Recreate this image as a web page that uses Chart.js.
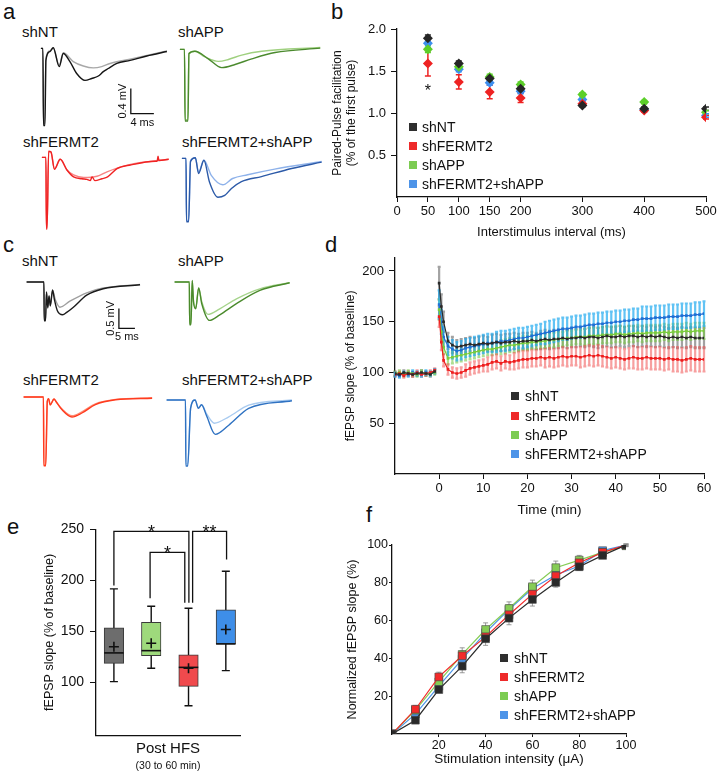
<!DOCTYPE html>
<html>
<head>
<meta charset="utf-8">
<title>FERMT2 / APP field recordings</title>
<script src="https://cdn.jsdelivr.net/npm/chart.js@4.4.1/dist/chart.umd.min.js"></script>
<style>
  html, body { margin: 0; padding: 0; background: #fff; overflow: hidden; }
  #fig { position: relative; width: 717px; height: 772px; overflow: hidden;
         font-family: "Liberation Sans", Arial, sans-serif; color: #111; }
  #fig canvas { position: absolute; }
  .txt { position: absolute; line-height: 1; white-space: nowrap; }
  .panel { font-size: 22px; }
  .name { font-size: 15px; }
  .legrow { position: absolute; height: 14px; display: flex; align-items: center;
            font-size: 14px; line-height: 14px; white-space: nowrap; }
  .legrow i { display: inline-block; width: 8px; height: 8px; box-sizing: border-box; }
</style>
</head>
<body>
<div id="fig">
  <div class="txt panel" style="left:3px;top:1px">a</div>
  <div class="txt panel" style="left:331px;top:1px">b</div>
  <div class="txt panel" style="left:3px;top:234px">c</div>
  <div class="txt panel" style="left:325px;top:234px">d</div>
  <div class="txt panel" style="left:7px;top:516px">e</div>
  <div class="txt panel" style="left:366px;top:504px">f</div>

  <div class="txt name" style="left:22px;top:24px">shNT</div>
  <div class="txt name" style="left:178px;top:24px">shAPP</div>
  <div class="txt name" style="left:23px;top:134px">shFERMT2</div>
  <div class="txt name" style="left:182px;top:134px">shFERMT2+shAPP</div>

  <div class="txt name" style="left:22px;top:253px">shNT</div>
  <div class="txt name" style="left:178px;top:253px">shAPP</div>
  <div class="txt name" style="left:23px;top:372px">shFERMT2</div>
  <div class="txt name" style="left:182px;top:372px">shFERMT2+shAPP</div>
</div>

<script>
// ---- shared ----
const groups = ['shNT', 'shFERMT2', 'shAPP', 'shFERMT2+shAPP'];

// ---- a: paired-pulse traces, [ms, mV] (dark = 2nd pulse, light = 1st pulse) ----
const aNTDark = [[0,0],[0.35,0],[0.45,-1.23],[0.7,-1.23],[0.87,-0.19],[1.57,-0.05],[2.14,0.01],[3.18,-0.29],[3.88,-0.08],[5.04,-0.21],[6.21,-0.4],[7.65,-0.51],[8.82,-0.48],[9.97,-0.44],[10.83,-0.37],[11.7,-0.32],[13.17,-0.24],[15.48,-0.19],[18.38,-0.12],[21.86,-0.05]];
const aNTLight = [[0,0],[0.35,0],[0.45,-1.2],[0.7,-1.2],[0.87,-0.17],[1.57,-0.04],[2.14,0.01],[3.18,-0.27],[3.88,-0.07],[5.62,-0.21],[7.36,-0.28],[9.1,-0.31],[10.56,-0.29],[12.0,-0.24],[15.48,-0.17],[21.86,-0.04]];
const aAPPDark = [[0,0],[0.8,0],[0.9,-1.14],[1.4,-1.14],[1.57,-0.07],[2.61,-0.03],[4.93,-0.15],[7.25,-0.29],[9.57,-0.24],[12.47,-0.15],[16.52,-0.05],[24.35,0.02]];
const aAPPLight = [[0,0],[0.8,0],[0.9,-1.12],[1.4,-1.12],[1.57,-0.06],[2.61,-0.03],[4.35,-0.12],[6.67,-0.19],[8.41,-0.16],[10.73,-0.09],[14.2,-0.03],[24.35,0.03]];
const aFDark = [[0,0],[0.7,0],[0.78,-1.14],[0.9,-1.14],[1.17,0.1],[1.57,0.09],[2.19,-0.19],[3.18,-0.03],[4.35,-0.2],[5.5,-0.31],[6.96,-0.34],[7.8,-0.35],[8.4,-0.37],[8.7,-0.31],[9.2,-0.37],[10.43,-0.34],[11.4,-0.31],[13.04,-0.18],[15.35,-0.12],[19.7,-0.06],[20.0,-0.06],[20.15,0.02],[20.3,-0.05],[22.0,-0.03]];
const aFLight = [[0,0],[0.7,0],[0.78,-1.12],[0.9,-1.12],[1.17,0.09],[1.57,0.08],[2.19,-0.18],[3.18,-0.03],[4.35,-0.2],[5.5,-0.28],[7.24,-0.32],[9.57,-0.3],[11.3,-0.23],[13.04,-0.17],[15.35,-0.11],[22.0,-0.03]];
const aBothDark = [[0,0],[0.72,0],[0.8,-1.01],[1.17,-1.01],[1.5,-0.05],[2.33,0.01],[2.9,-0.24],[3.82,-0.03],[4.8,-0.38],[6.26,-0.62],[7.43,-0.59],[8.6,-0.48],[10.33,-0.37],[13.81,-0.29],[19.03,-0.16],[24.25,-0.06]];
const aBothLight = [[0,0],[0.72,0],[0.8,-0.99],[1.17,-0.99],[1.5,-0.04],[2.33,0.01],[2.9,-0.22],[3.82,-0.03],[5.1,-0.27],[7.1,-0.42],[8.8,-0.32],[11.4,-0.26],[16.1,-0.17],[24.25,-0.05]];

// ---- c: LTP traces, [ms, mV] (dark = after HFS, light = baseline) ----
const cNTDark = [[0,0],[5.4,0],[5.5,-0.97],[5.9,-0.97],[6.2,-0.25],[6.6,-0.65],[7.0,-0.35],[7.4,-0.6],[8.1,-0.2],[8.7,-0.45],[9.6,-0.72],[11.25,-0.82],[12.5,-0.76],[14.6,-0.63],[18.75,-0.33],[23.9,-0.17],[35.4,-0.07]];
const cNTLight = [[0,0],[5.4,0],[5.5,-0.95],[5.9,-0.95],[6.2,-0.25],[6.6,-0.62],[7.0,-0.35],[7.4,-0.58],[8.1,-0.21],[9.0,-0.45],[10.4,-0.63],[13.5,-0.48],[18.75,-0.27],[23.9,-0.15],[35.4,-0.06]];
const cAPPDark = [[0,0],[4.6,0],[4.7,-1.07],[5.1,-1.07],[5.5,0.04],[5.9,-0.5],[6.6,-0.67],[7.5,-0.15],[8.5,-0.55],[10.9,-0.96],[14.1,-0.82],[19.3,-0.54],[26.6,-0.21],[35.9,-0.02]];
const cAPPLight = [[0,0],[4.6,0],[4.7,-1.04],[5.1,-1.04],[5.5,0.03],[5.9,-0.48],[6.6,-0.64],[7.5,-0.15],[8.5,-0.5],[10.4,-0.81],[14.1,-0.67],[19.3,-0.42],[26.6,-0.17],[35.9,-0.02]];
const cFDark = [[0,0],[6.2,0],[6.3,-1.72],[6.9,-1.72],[7.4,-0.1],[7.8,-0.04],[8.3,-0.2],[9.5,-0.05],[10.0,-0.1],[12.0,-0.32],[15.1,-0.5],[18.2,-0.4],[22.4,-0.19],[28.7,-0.07],[40.1,-0.03]];
const cFLight = [[0,0],[6.2,0],[6.3,-1.7],[6.9,-1.7],[7.4,-0.1],[7.8,-0.04],[8.3,-0.19],[9.5,-0.05],[10.0,-0.1],[12.0,-0.3],[15.1,-0.47],[18.2,-0.37],[22.4,-0.17],[28.7,-0.06],[40.1,-0.02]];
const cBothDark = [[0,0],[5.9,0],[6.0,-1.65],[6.6,-1.65],[7.5,-0.2],[8.9,0],[9.9,-0.21],[10.9,-0.12],[12.5,-0.4],[15.2,-0.86],[19.4,-0.63],[25.6,-0.21],[39.1,-0.02]];
const cBothLight = [[0,0],[5.9,0],[6.0,-1.6],[6.6,-1.6],[7.5,-0.2],[8.9,0],[9.9,-0.2],[10.9,-0.12],[12.5,-0.35],[14.9,-0.58],[19.4,-0.42],[25.6,-0.13],[39.1,0]];

// ---- b: paired-pulse facilitation ----
const ppInterval = [50, 100, 150, 200, 300, 400, 500];
const ppNT     = [1.89, 1.59, 1.41, 1.29, 1.09, 1.05, 1.05];
const ppFERMT2 = [1.59, 1.37, 1.25, 1.18, 1.11, 1.03, 0.95];
const ppAPP    = [1.76, 1.55, 1.43, 1.34, 1.22, 1.13, 1.01];
const ppBoth   = [1.83, 1.52, 1.36, 1.26, 1.16, 1.04, 0.97];
const ppNTErr     = [0.04, 0.03, 0.03, 0.03, 0.02, 0.02, 0.02];
const ppFERMT2Err = [0.15, 0.085, 0.08, 0.055, 0.03, 0.02, 0.02];
const ppAPPErr    = [0.04, 0.04, 0.03, 0.03, 0.02, 0.02, 0.02];
const ppBothErr   = [0.05, 0.03, 0.03, 0.03, 0.02, 0.02, 0.02];
const ppXTicks = [0, 50, 100, 150, 200, 300, 400, 500];
const ppYTicks = [0.5, 1.0, 1.5, 2.0];
const ppStar = { x: 50, y: 1.30, text: '*' };

// ---- d: LTP time course (% of baseline) ----
const timePre = [-10, -9, -8, -7, -6, -5, -4, -3, -2, -1];
const timePost = [0, 0.5, 1, 2, 3, 4, 5, 6, 7, 8, 9, 10, 11, 12, 13, 14, 15, 16, 17, 18, 19, 20,
  21, 22, 23, 24, 25, 26, 27, 28, 29, 30, 31, 32, 33, 34, 35, 36, 37, 38, 39, 40,
  41, 42, 43, 44, 45, 46, 47, 48, 49, 50, 51, 52, 53, 54, 55, 56, 57, 58, 59, 60];
const ltpNTPre     = [99, 98, 100, 99, 98, 99, 100, 99, 98, 101];
const ltpFERMT2Pre = [98, 99, 97, 99, 98, 100, 98, 99, 100, 102];
const ltpAPPPre    = [99, 100, 98, 100, 99, 98, 100, 99, 99, 100];
const ltpBothPre   = [98, 97, 99, 98, 100, 99, 98, 100, 99, 101];
const ltpPreErr    = [2, 2, 2, 2, 2, 2, 2, 2, 2, 2];
const ltpNTPost = [188,165,150,131,127,125,126,127,128,127, 128,129,128,129,130,129,130,130,131,130,
  131,131,132,131,132,133,132,133,133,134, 133,134,134,135,134,135,135,134,135,136,
  135,135,136,135,136,136,135,136,135,136, 135,136,135,134,135,134,135,134,135,134, 134,134];
const ltpFERMT2Post = [155,130,112,103,100,99,100,102,104,105, 106,107,108,110,111,109,111,110,111,112,
  113,113,114,114,115,114,115,114,115,116, 115,116,116,115,116,117,116,117,116,115,
  114,115,114,113,114,115,114,114,115,114, 114,114,113,114,113,113,112,113,114,113, 113,113];
const ltpAPPPost = [162,140,125,114,115,116,117,118,119,120, 121,122,123,123,124,125,126,127,127,128,
  129,129,130,130,131,131,132,132,133,133, 134,134,135,135,135,136,136,136,137,137,
  137,138,138,137,138,138,139,138,139,139, 139,139,140,139,140,140,140,141,140,141, 141,141];
const ltpBothPost = [167,150,135,126,123,121,122,124,125,126, 127,128,129,129,130,131,131,132,133,134,
  134,135,136,137,138,139,140,141,142,143, 143,144,145,145,146,147,147,148,148,149,
  149,150,150,151,151,152,152,153,153,153, 154,154,154,155,155,155,156,156,156,157, 157,158];
const ltpNTErr = [16,12,10,8,8,7,7,7,7,7, 7,7,7,8,8,8,8,8,8,8, 8,8,8,8,9,9,9,9,9,9,
  9,9,9,9,9,9,10,10,10,10, 10,10,10,10,10,10,10,10,10,10, 10,10,10,10,10,10,10,10,10,10, 10,10];
const ltpFERMT2Err = [10,8,6,5,5,5,5,6,6,6, 6,6,7,7,7,7,7,7,8,8, 8,8,8,8,8,9,9,9,9,9,
  9,9,9,10,10,10,10,10,10,10, 10,10,10,10,10,11,11,11,11,11, 11,11,11,11,12,12,12,12,12,12, 12,12];
const ltpAPPErr = [10,8,7,6,6,6,6,6,6,6, 6,6,6,6,6,7,7,7,7,7, 7,7,7,7,7,7,7,7,7,7,
  7,7,7,7,8,8,8,8,8,8, 8,8,8,8,8,8,8,8,8,8, 8,8,8,8,8,8,8,8,8,8, 8,8];
const ltpBothErr = [14,12,10,9,9,9,9,9,9,9, 9,9,9,9,10,10,10,10,10,10, 10,10,10,10,10,11,11,11,11,11,
  11,11,11,11,11,11,11,11,11,11, 11,11,11,11,11,11,11,12,12,12, 12,12,12,12,12,12,12,12,12,12, 12,12];
const ltpXTicks = [0, 10, 20, 30, 40, 50, 60];
const ltpYTicks = [50, 100, 150, 200];

// ---- e: fEPSP slope 30-60 min after HFS, box plot ----
const boxGroups = ['shNT', 'shAPP', 'shFERMT2', 'shFERMT2+shAPP'];
const boxLow  = [100.7, 113.8, 77.1, 111.5];
const boxQ1   = [118.7, 126.2, 96.1, 137.7];
const boxMed  = [128.9, 131.1, 114.7, 137.7];
const boxQ3   = [153.4, 158.9, 126.9, 171.1];
const boxHigh = [191.7, 174.7, 172.7, 209.0];
const boxMean = [135.0, 138.3, 113.8, 151.8];
const boxYTicks = [100, 150, 200, 250];
// significance brackets: from box, to box, bar level, drop ends, label
const sigFrom    = [0, 0.97, 2.11];
const sigTo      = [2.01, 1.9, 3.02];
const sigTop     = [248, 227.5, 248];
const sigFromEnd = [195, 182.5, 178];
const sigToEnd   = [178, 178, 220.5];
const sigText    = ['*', '*', '**'];

// ---- f: input/output curves ----
const stim = [0, 10, 20, 30, 40, 50, 60, 70, 80, 90, 100];
const ioNT     = [0, 7.3, 23.5, 35.9, 50.4, 61.3, 71.2, 80.2, 88.5, 94.5, 100];
const ioFERMT2 = [0, 13.1, 30.2, 41.4, 51.4, 63.1, 74.0, 83.6, 90.6, 96.1, 100];
const ioAPP    = [0, 12.6, 27.6, 42.1, 55.3, 66.4, 77.9, 88.0, 92.0, 96.1, 99.6];
const ioBoth   = [0, 10.5, 25.3, 39.6, 53.6, 65.9, 77.0, 84.1, 88.9, 97.0, 100];
const ioNTErr     = [0, 1.5, 1.5, 3.5, 3.5, 3.5, 3.5, 2.5, 2.0, 1.0, 0.5];
const ioFERMT2Err = [0, 2.0, 2.5, 2.5, 2.5, 2.5, 2.5, 2.0, 2.0, 1.0, 0.5];
const ioAPPErr    = [0, 2.5, 3.0, 3.5, 3.5, 3.5, 3.5, 3.5, 2.5, 1.0, 0.5];
const ioBothErr   = [0, 1.5, 2.0, 2.0, 2.5, 2.5, 2.5, 2.0, 2.0, 1.0, 0.5];
const ioTicks = [20, 40, 60, 80, 100];

// ---- colours ----
const ink = '#111';
const legendColors = ['#2e2e2e', '#ee2a2a', '#7ccc52', '#4d94e8'];
const ppColors = ['#262626', '#ee2222', '#5ccf2a', '#3d8ff0'];
const ltpColors = ['#2a2a2a', '#ee1d1d', '#79cc3c', '#1f6fd4'];
const ltpErrColors = ['rgba(85,85,85,0.55)', 'rgba(240,80,80,0.55)', 'rgba(120,200,70,0.6)', 'rgba(30,170,240,0.7)'];
const boxColors = ['#6d6d6d', '#9ed97c', '#f04a4d', '#3e8ee8'];
const ioColors = ['#2a2a2a', '#f32a2a', '#86cc55', '#4c95e8'];

Chart.defaults.font.family = '"Liberation Sans", Arial, sans-serif';
Chart.defaults.color = ink;

const fig = document.getElementById('fig');

function addCanvas(left, top, w, h) {
  const c = document.createElement('canvas');
  c.width = w; c.height = h;
  c.style.left = left + 'px'; c.style.top = top + 'px';
  c.style.width = w + 'px'; c.style.height = h + 'px';
  fig.appendChild(c);
  return c;
}

function baseOpts(pad) {
  return {
    responsive: false, animation: false, events: [],
    layout: { padding: pad },
    plugins: { legend: { display: false }, tooltip: { enabled: false } }
  };
}

const tickList = list => s => { s.ticks = list.map(v => ({ value: v })); };
const fixSize = (prop, n) => s => { s[prop] = n; };

function axis(o) {
  return {
    type: 'linear', min: o.min, max: o.max,
    afterBuildTicks: tickList(o.ticks),
    afterFit: fixSize(o.size[0], o.size[1]),
    ticks: { font: { size: o.tickFont }, color: ink, padding: o.tickPad, autoSkip: false, maxRotation: 0,
             callback: o.fmt || (v => v) },
    grid: { drawOnChartArea: false, color: ink, tickLength: o.tickLen, lineWidth: 1 },
    border: { color: ink, width: 1.3 },
    title: { display: true, text: o.title, font: { size: o.titleFont }, color: ink, padding: o.titlePad }
  };
}

function legend(x, ys, colors, gap) {
  groups.forEach((g, i) => {
    const row = document.createElement('div');
    row.className = 'legrow';
    row.style.left = x + 'px';
    row.style.top = (ys[i] - 7) + 'px';
    const sq = document.createElement('i');
    sq.style.background = colors[i];
    sq.style.marginRight = gap + 'px';
    row.appendChild(sq);
    row.appendChild(document.createTextNode(g));
    fig.appendChild(row);
  });
}

// ---- plugins ----
const scaleBar = {
  id: 'scaleBar',
  afterDatasetsDraw(chart, args, o) {
    const { ctx, scales: { x, y } } = chart;
    const x0 = x.getPixelForValue(o.t), y0 = y.getPixelForValue(o.v);
    const x1 = x.getPixelForValue(o.t + o.dt), y1 = y.getPixelForValue(o.v + o.dv);
    ctx.save();
    ctx.strokeStyle = ink; ctx.lineWidth = 1.3;
    ctx.beginPath(); ctx.moveTo(x0, y1); ctx.lineTo(x0, y0); ctx.lineTo(x1, y0); ctx.stroke();
    ctx.fillStyle = ink;
    ctx.font = '11px "Liberation Sans", Arial, sans-serif';
    ctx.textAlign = 'center'; ctx.textBaseline = 'middle';
    ctx.fillText(o.tLabel, (x0 + x1) / 2, y0 + 9);
    ctx.translate(x0 - 8, (y0 + y1) / 2);
    ctx.rotate(-Math.PI / 2);
    ctx.fillText(o.vLabel, 0, 0);
    ctx.restore();
  }
};

const errorBars = {
  id: 'errorBars',
  beforeDatasetsDraw(chart, args, opts) {
    const { ctx } = chart;
    const ys = chart.scales.y;
    const order = opts.order || chart.data.datasets.map((d, i) => i);
    ctx.save();
    ctx.lineWidth = opts.width || 1;
    for (const di of order) {
      const ds = chart.data.datasets[di];
      if (!ds.errors) continue;
      const meta = chart.getDatasetMeta(di);
      ctx.strokeStyle = ds.errColor;
      ds.data.forEach((p, i) => {
        const e = ds.errors[i];
        if (p.y == null || !e) return;
        const px = meta.data[i].x;
        const t = ys.getPixelForValue(p.y + e), b = ys.getPixelForValue(p.y - e);
        ctx.beginPath();
        ctx.moveTo(px, t); ctx.lineTo(px, b);
        if (opts.cap) {
          ctx.moveTo(px - opts.cap, t); ctx.lineTo(px + opts.cap, t);
          ctx.moveTo(px - opts.cap, b); ctx.lineTo(px + opts.cap, b);
        }
        ctx.stroke();
      });
    }
    ctx.restore();
  }
};

const starMark = {
  id: 'starMark',
  afterDatasetsDraw(chart, args, o) {
    const { ctx, scales: { x, y } } = chart;
    ctx.save();
    ctx.fillStyle = ink;
    ctx.font = '16px "Liberation Sans", Arial, sans-serif';
    ctx.textAlign = 'center'; ctx.textBaseline = 'alphabetic';
    ctx.fillText(o.text, x.getPixelForValue(o.x), y.getPixelForValue(o.y) + 8);
    ctx.restore();
  }
};

const boxParts = {
  id: 'boxParts',
  beforeDatasetsDraw(chart) {
    const { ctx, scales: { x, y } } = chart;
    ctx.save();
    ctx.strokeStyle = ink; ctx.lineWidth = 1.4;
    boxLow.forEach((lo, i) => {
      const px = x.getPixelForValue(i);
      const yl = y.getPixelForValue(lo), yh = y.getPixelForValue(boxHigh[i]);
      ctx.beginPath();
      ctx.moveTo(px, yl); ctx.lineTo(px, yh);
      ctx.moveTo(px - 4, yl); ctx.lineTo(px + 4, yl);
      ctx.moveTo(px - 4, yh); ctx.lineTo(px + 4, yh);
      ctx.stroke();
    });
    ctx.restore();
  },
  afterDatasetsDraw(chart, args, o) {
    const { ctx, scales: { x, y } } = chart;
    ctx.save();
    ctx.strokeStyle = ink; ctx.lineWidth = 1.6;
    boxMed.forEach((m, i) => {
      const px = x.getPixelForValue(i), py = y.getPixelForValue(m);
      ctx.beginPath(); ctx.moveTo(px - o.half, py); ctx.lineTo(px + o.half, py); ctx.stroke();
    });
    // significance brackets
    ctx.lineWidth = 1.3;
    ctx.fillStyle = ink;
    ctx.font = '18px "Liberation Sans", Arial, sans-serif';
    ctx.textAlign = 'center'; ctx.textBaseline = 'alphabetic';
    sigFrom.forEach((f, i) => {
      const xa = x.getPixelForValue(f), xb = x.getPixelForValue(sigTo[i]);
      const yt = y.getPixelForValue(sigTop[i]);
      ctx.beginPath();
      ctx.moveTo(xa, y.getPixelForValue(sigFromEnd[i]));
      ctx.lineTo(xa, yt); ctx.lineTo(xb, yt);
      ctx.lineTo(xb, y.getPixelForValue(sigToEnd[i]));
      ctx.stroke();
      ctx.fillText(sigText[i], (xa + xb) / 2, yt + 7);
    });
    ctx.restore();
  }
};

// ---- trace panels (a, c) ----
function traceChart(left, top, w, h, xr, yr, dark, light, cDark, cLight, bar) {
  const line = (d, c) => ({
    data: d.map(p => ({ x: p[0], y: p[1] })),
    borderColor: c, borderWidth: 1.4, pointRadius: 0,
    cubicInterpolationMode: 'monotone', fill: false
  });
  const opts = baseOpts(0);
  opts.scales = {
    x: { type: 'linear', display: false, min: xr[0], max: xr[1] },
    y: { type: 'linear', display: false, min: yr[0], max: yr[1] }
  };
  if (bar) opts.plugins.scaleBar = bar;
  new Chart(addCanvas(left, top, w, h), {
    type: 'line',
    data: { datasets: [line(dark, cDark), line(light, cLight)] },
    options: opts,
    plugins: bar ? [scaleBar] : []
  });
}

const aX = [-0.5, 25], aY = [-1.3, 0.15];
traceChart(38, 39, 147, 91, aX, aY, aNTDark, aNTLight, '#151515', '#a8a8a8',
  { t: 15.6, v: -1.04, dt: 4, dv: 0.4, tLabel: '4 ms', vLabel: '0.4 mV' });
traceChart(177, 40, 147, 91, aX, aY, aAPPDark, aAPPLight, '#4b8a2e', '#9fd07f');
traceChart(39, 148, 147, 91, aX, aY, aFDark, aFLight, '#f02323', '#f78383');
traceChart(179, 149, 147, 91, aX, aY, aBothDark, aBothLight, '#2c5aa8', '#8eb2ea');

const cX = [-0.5, 41], cY = [-1.8, 0.15];
traceChart(25, 276, 133, 78, cX, cY, cNTDark, cNTLight, '#1b1b1b', '#a0a0a0',
  { t: 28.8, v: -1.16, dt: 5, dv: 0.5, tLabel: '5 ms', vLabel: '0.5 mV' });
traceChart(173, 276, 133, 78, cX, cY, cAPPDark, cAPPLight, '#4a8a2c', '#a6d48c');
traceChart(22, 391, 133, 78, cX, cY, cFDark, cFLight, '#ff3b1f', '#ff8c73');
traceChart(165, 394, 133, 78, cX, cY, cBothDark, cBothLight, '#2f72c2', '#a9cbf0');

// ---- b ----
{
  const means = [ppNT, ppFERMT2, ppAPP, ppBoth];
  const errs = [ppNTErr, ppFERMT2Err, ppAPPErr, ppBothErr];
  const opts = baseOpts({ left: 0, right: 14, top: 19, bottom: 16 });
  opts.plugins.errorBars = { width: 1.5, cap: 3 };
  opts.plugins.starMark = ppStar;
  opts.scales = {
    x: axis({ min: 0, max: 500, ticks: ppXTicks, size: ['height', 47], tickFont: 13, tickPad: 2, tickLen: 5,
              title: 'Interstimulus interval (ms)', titleFont: 13, titlePad: { top: 0, bottom: 4 } }),
    y: axis({ min: 0, max: 2, ticks: ppYTicks, size: ['width', 77], tickFont: 13, tickPad: 5, tickLen: 6,
              fmt: v => v.toFixed(1),
              title: ['Paired-Pulse facilitation', '(% of the first pulse)'], titleFont: 12, titlePad: { top: 10, bottom: 0 } })
  };
  new Chart(addCanvas(320, 10, 400, 250), {
    type: 'scatter',
    data: {
      datasets: groups.map((g, k) => ({
        label: g,
        data: ppInterval.map((x, i) => ({ x, y: means[k][i] })),
        errors: errs[k], errColor: ppColors[k],
        pointStyle: 'rectRot', pointRadius: 5,
        backgroundColor: ppColors[k], borderColor: ppColors[k], borderWidth: 0
      }))
    },
    options: opts,
    plugins: [errorBars, starMark]
  });
  legend(409, [127, 146, 165, 184], legendColors, 5);
}

// ---- d ----
{
  const pre = [ltpNTPre, ltpFERMT2Pre, ltpAPPPre, ltpBothPre];
  const post = [ltpNTPost, ltpFERMT2Post, ltpAPPPost, ltpBothPost];
  const postErr = [ltpNTErr, ltpFERMT2Err, ltpAPPErr, ltpBothErr];
  const opts = baseOpts({ left: 0, right: 16, top: 12, bottom: 8 });
  opts.plugins.errorBars = { width: 2.2, cap: 1.5, order: [0, 2, 1, 3] };
  opts.scales = {
    x: axis({ min: -10, max: 60, ticks: ltpXTicks, size: ['height', 48], tickFont: 13, tickPad: 2, tickLen: 5,
              title: 'Time (min)', titleFont: 13.5, titlePad: { top: 0, bottom: 4 } }),
    y: axis({ min: 0, max: 213, ticks: ltpYTicks, size: ['width', 75], tickFont: 13, tickPad: 5, tickLen: 6,
              title: 'fEPSP slope (% of baseline)', titleFont: 12, titlePad: { top: 23, bottom: 0 } })
  };
  new Chart(addCanvas(320, 245, 400, 285), {
    type: 'line',
    data: {
      datasets: groups.map((g, k) => ({
        label: g,
        data: pre[k].map((y, i) => ({ x: timePre[i], y }))
          .concat([{ x: -0.5, y: null }])
          .concat(post[k].map((y, i) => ({ x: timePost[i], y }))),
        errors: ltpPreErr.concat([null], postErr[k]),
        errColor: ltpErrColors[k],
        borderColor: ltpColors[k], borderWidth: 1.2,
        pointStyle: 'rect', pointRadius: 1.9, pointBorderWidth: 0,
        pointBackgroundColor: ltpColors[k], tension: 0
      }))
    },
    options: opts,
    plugins: [errorBars]
  });
  legend(511, [396, 415.5, 435, 454], legendColors, 6);
}

// ---- e ----
{
  const opts = baseOpts({ left: 0, right: 20, top: 14, bottom: 0 });
  opts.plugins.boxParts = { half: 9.75 };
  opts.plugins.subtitle = { display: true, text: '(30 to 60 min)', position: 'bottom', fullSize: false,
                            font: { size: 10.5 }, color: ink, padding: 0 };
  opts.scales = {
    x: { type: 'linear', min: -0.48, max: 3.38, offset: false,
         afterFit: fixSize('height', 24),
         ticks: { display: false }, grid: { display: false, offset: false },
         border: { color: ink, width: 1.3 },
         title: { display: true, text: 'Post HFS', font: { size: 15 }, color: ink, padding: { top: 0, bottom: 2 } } },
    y: axis({ min: 48, max: 250, ticks: boxYTicks, size: ['width', 96], tickFont: 14, tickPad: 6, tickLen: 6,
              title: 'fEPSP slope (% of baseline)', titleFont: 12.5, titlePad: { top: 42, bottom: 0 } })
  };
  new Chart(addCanvas(0, 515, 260, 257), {
    type: 'bar',
    data: {
      datasets: [
        { type: 'line', label: 'mean', data: boxMean.map((m, i) => ({ x: i, y: m })), showLine: false,
          pointStyle: 'cross', pointRadius: 5, borderColor: ink, pointBorderColor: ink, pointBorderWidth: 1.6 },
        { type: 'bar', label: 'box', data: boxGroups.map((g, i) => ({ x: i, y: [boxQ1[i], boxQ3[i]] })),
          backgroundColor: boxColors, borderColor: '#3a3a3a', borderWidth: 1, borderSkipped: false, barThickness: 19.5 }
      ]
    },
    options: opts,
    plugins: [boxParts]
  });
}

// ---- f ----
{
  const io = [ioNT, ioFERMT2, ioAPP, ioBoth];
  const ioErr = [ioNTErr, ioFERMT2Err, ioAPPErr, ioBothErr];
  const opts = baseOpts({ left: 0, right: 14, top: 15, bottom: 1 });
  opts.plugins.errorBars = { width: 1, cap: 2.5 };
  opts.scales = {
    x: axis({ min: 0, max: 100, ticks: ioTicks, size: ['height', 37], tickFont: 12.5, tickPad: 1, tickLen: 3,
              title: 'Stimulation intensity (\u03bcA)', titleFont: 13.5, titlePad: { top: 0, bottom: 4 } }),
    y: axis({ min: 0, max: 100, ticks: ioTicks, size: ['width', 62], tickFont: 12.5, tickPad: 1, tickLen: 3,
              title: 'Normalized fEPSP slope (%)', titleFont: 12.5, titlePad: { top: 15, bottom: 0 } })
  };
  new Chart(addCanvas(330, 530, 310, 242), {
    type: 'line',
    data: {
      datasets: groups.map((g, k) => ({
        label: g,
        data: stim.map((x, i) => ({ x, y: io[k][i] })),
        errors: ioErr[k], errColor: 'rgba(130,130,130,0.8)',
        borderColor: ioColors[k], borderWidth: 1.2,
        pointStyle: 'rect', pointRadius: 5.5,
        pointBackgroundColor: ioColors[k], pointBorderColor: '#444', pointBorderWidth: 0.6, tension: 0
      }))
    },
    options: opts,
    plugins: [errorBars]
  });
  legend(500, [657.5, 677, 696, 715], legendColors, 6);
}
</script>
</body>
</html>
